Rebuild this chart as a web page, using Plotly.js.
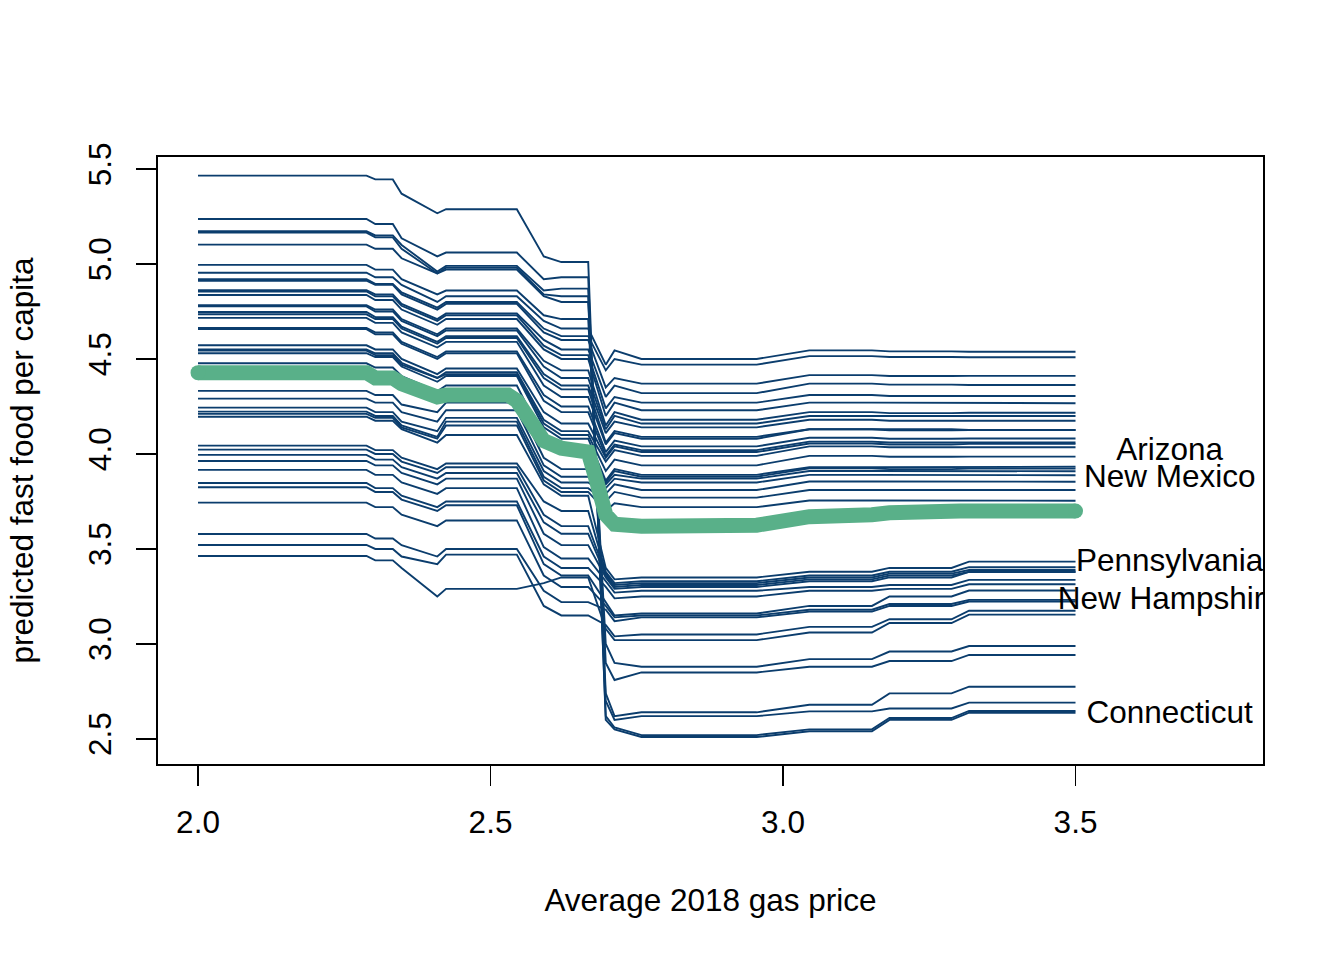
<!DOCTYPE html>
<html><head><meta charset="utf-8">
<script src="https://cdn.plot.ly/plotly-3.0.1.min.js"></script>
<style>html,body{margin:0;padding:0;background:#fff}#chart{width:1344px;height:960px}</style>
</head><body><div id="chart"></div>
<script>
// Gas prices (x) at which each ICE curve is read
const gasPrice = [2.000, 2.288, 2.303, 2.333, 2.348, 2.409, 2.424, 2.545, 2.591, 2.621, 2.667, 2.697, 2.712, 2.758, 2.955, 3.045, 3.152, 3.182, 3.288, 3.318, 3.500];

// Predicted fast food per capita for each state's curve, read at a given gas price
const p2000 = [5.465, 5.237, 5.172, 5.165, 5.102, 4.995,
  4.954, 4.920, 4.912, 4.862, 4.855, 4.837, 4.783, 4.777, 4.747, 4.735, 4.716, 4.663, 4.657, 4.572, 4.550, 4.544, 4.530, 4.477, 4.332, 4.291, 4.244, 4.223, 4.211,
  4.196, 4.044, 4.023, 3.995, 3.963, 3.916, 3.847, 3.825, 3.744, 3.579, 3.521, 3.463];
const p2303 = [5.445, 5.21, 5.15, 5.14, 5.08, 4.97,
  4.93, 4.895, 4.89, 4.84, 4.83, 4.81, 4.76, 4.75, 4.72, 4.71, 4.69, 4.64, 4.63, 4.55, 4.53, 4.52, 4.51, 4.455, 4.31, 4.27, 4.22, 4.20, 4.19,
  4.175, 4.02, 4.00, 3.97, 3.94, 3.89, 3.82, 3.80, 3.72, 3.555, 3.50, 3.44];
const p2348 = [5.37, 5.135, 5.10, 5.08, 5.03, 4.92,
  4.89, 4.85, 4.84, 4.79, 4.78, 4.76, 4.71, 4.70, 4.67, 4.66, 4.64, 4.59, 4.58, 4.50, 4.48, 4.47, 4.46, 4.41, 4.26, 4.22, 4.17, 4.15, 4.14,
  4.13, 3.98, 3.96, 3.93, 3.90, 3.85, 3.78, 3.76, 3.68, 3.52, 3.46, 3.40];
const p2409 = [5.267, 5.04, 4.96, 4.95, 4.95, 4.84,
  4.80, 4.77, 4.76, 4.71, 4.70, 4.68, 4.63, 4.62, 4.59, 4.58, 4.56, 4.51, 4.50, 4.42, 4.40, 4.40, 4.38, 4.33, 4.22, 4.17, 4.12, 4.09, 4.08,
  4.06, 3.92, 3.90, 3.87, 3.84, 3.79, 3.72, 3.70, 3.62, 3.46, 3.42, 3.25];
const p2424 = [5.288, 5.06, 4.99, 4.98, 4.97, 4.86,
  4.83, 4.80, 4.79, 4.74, 4.73, 4.71, 4.66, 4.65, 4.62, 4.61, 4.59, 4.54, 4.53, 4.45, 4.43, 4.42, 4.41, 4.36, 4.27, 4.23, 4.19, 4.17, 4.15,
  4.10, 3.95, 3.93, 3.90, 3.87, 3.82, 3.75, 3.73, 3.65, 3.50, 3.47, 3.29];
const p2591 = [5.04, 4.92, 4.86, 4.84, 4.83, 4.73,
  4.70, 4.66, 4.64, 4.60, 4.57, 4.55, 4.49, 4.46, 4.42, 4.40, 4.36, 4.31, 4.28, 4.22, 4.18, 4.16, 4.14, 4.08, 3.98, 3.94, 3.91, 3.88, 3.86,
  3.84, 3.75, 3.68, 3.64, 3.58, 3.51, 3.46, 3.42, 3.36, 3.28, 3.20, 3.32];
const p2621 = [5.01, 4.93, 4.87, 4.83, 4.80, 4.71,
  4.66, 4.62, 4.60, 4.55, 4.52, 4.50, 4.44, 4.40, 4.36, 4.34, 4.30, 4.25, 4.22, 4.16, 4.12, 4.10, 4.08, 4.02, 3.92, 3.88, 3.85, 3.82, 3.80,
  3.78, 3.70, 3.62, 3.58, 3.52, 3.45, 3.40, 3.36, 3.30, 3.22, 3.15, 3.35];
const p2697 = [2.60, 2.62, 2.70, 2.74, 2.90, 3.00,
  4.47, 4.44, 4.35, 4.30, 4.24, 4.20, 4.15, 4.13, 4.11, 4.06, 4.05, 4.01, 3.99, 3.98, 3.96, 3.91, 3.86, 3.85, 3.84, 3.82, 3.79, 3.75, 3.70,
  3.40, 3.38, 3.37, 3.36, 3.35, 3.33, 3.30, 3.22, 3.20, 3.18, 3.10, 3.08];
const p2712 = [2.55, 2.56, 2.60, 2.62, 2.81, 2.90,
  4.545, 4.50, 4.40, 4.36, 4.30, 4.27, 4.22, 4.20, 4.17, 4.12, 4.11, 4.07, 4.05, 4.04, 4.02, 3.97, 3.92, 3.91, 3.89, 3.87, 3.84, 3.80, 3.74,
  3.34, 3.32, 3.31, 3.30, 3.29, 3.27, 3.24, 3.15, 3.14, 3.12, 3.04, 3.02];
const p2758 = [2.51, 2.52, 2.62, 2.64, 2.85, 2.88,
  4.50, 4.47, 4.37, 4.32, 4.27, 4.23, 4.18, 4.16, 4.14, 4.09, 4.08, 4.04, 4.02, 4.01, 3.99, 3.94, 3.89, 3.88, 3.87, 3.85, 3.81, 3.77, 3.72,
  3.35, 3.33, 3.32, 3.31, 3.30, 3.28, 3.25, 3.16, 3.15, 3.14, 3.05, 3.02];
const p3045 = [2.54, 2.55, 2.645, 2.68, 2.88, 2.92,
  4.545, 4.515, 4.415, 4.37, 4.31, 4.27, 4.22, 4.20, 4.18, 4.13, 4.13, 4.085, 4.065, 4.055, 4.04, 3.99, 3.93, 3.925, 3.91, 3.89, 3.855, 3.81, 3.755,
  3.38, 3.36, 3.35, 3.34, 3.33, 3.30, 3.28, 3.20, 3.18, 3.17, 3.09, 3.06];
const p3182 = [2.60, 2.61, 2.66, 2.74, 2.91, 2.96,
  4.54, 4.51, 4.41, 4.365, 4.305, 4.27, 4.215, 4.20, 4.175, 4.125, 4.13, 4.08, 4.06, 4.05, 4.035, 3.985, 3.93, 3.92, 3.91, 3.89, 3.855, 3.81, 3.755,
  3.40, 3.38, 3.37, 3.36, 3.35, 3.31, 3.29, 3.25, 3.21, 3.20, 3.13, 3.11];
const p3318 = [2.638, 2.647, 2.691, 2.775, 2.942, 2.989,
  4.538, 4.509, 4.411, 4.363, 4.305, 4.267, 4.217, 4.200, 4.175, 4.126, 4.126, 4.081, 4.060, 4.053, 4.035, 3.986, 3.933, 3.923, 3.909, 3.888, 3.854, 3.810, 3.754,
  3.433, 3.404, 3.389, 3.379, 3.380, 3.337, 3.314, 3.281, 3.232, 3.223, 3.175, 3.154];

// which reading belongs to each gas price in gasPrice
const readingAtPrice = [p2000, p2000, p2303, p2303, p2348, p2409, p2424, p2424, p2591, p2621, p2621, p2697, p2712, p2758, p2758, p3045, p3045, p3182, p3182, p3318, p3318];

// average (partial dependence) curve
const meanPrice = [2.000, 2.288, 2.303, 2.333, 2.348, 2.394, 2.409, 2.424, 2.530, 2.545, 2.561, 2.576, 2.591, 2.621, 2.667, 2.682, 2.697, 2.712, 2.758, 2.955, 3.000, 3.045, 3.152, 3.182, 3.303, 3.500];
const meanPredicted = [4.428, 4.428, 4.40, 4.40, 4.37, 4.33, 4.30, 4.31, 4.31, 4.28, 4.20, 4.13, 4.07, 4.03, 4.01, 3.85, 3.68, 3.63, 3.62, 3.625, 3.64, 3.67, 3.68, 3.69, 3.70, 3.70];

// labelled states
const labelStates = ['Arizona', 'New Mexico', 'Pennsylvania', 'New Hampshire', 'Connecticut'];
const labelPredicted = [4.012, 3.870, 3.423, 3.223, 2.625];
const labelPrice = 3.661;

const xTicks = [2.0, 2.5, 3.0, 3.5];
const yTicks = [2.5, 3.0, 3.5, 4.0, 4.5, 5.0, 5.5];

const FONT = 'Liberation Sans, Arial, Helvetica, sans-serif';
const FS = 31.5;
const BLUE = '#0b3d6d';
const GREEN = '#59b089';

const traces = [];
for (let i = 0; i < p2000.length; i++) {
  traces.push({
    x: gasPrice, y: readingAtPrice.map(col => col[i]),
    type: 'scatter', mode: 'lines',
    line: {color: BLUE, width: 1.9},
    hoverinfo: 'skip', showlegend: false
  });
}
traces.push({
  x: meanPrice, y: meanPredicted, type: 'scatter', mode: 'lines',
  line: {color: GREEN, width: 15}, hoverinfo: 'skip', showlegend: false
});
traces.push({
  x: [meanPrice[0], meanPrice[meanPrice.length - 1]],
  y: [meanPredicted[0], meanPredicted[meanPredicted.length - 1]],
  type: 'scatter', mode: 'markers',
  marker: {color: GREEN, size: 15, line: {width: 0}}, hoverinfo: 'skip', showlegend: false
});
traces.push({
  x: labelStates.map(() => labelPrice), y: labelPredicted, text: labelStates,
  type: 'scatter', mode: 'text', textposition: 'middle center', cliponaxis: true,
  textfont: {family: FONT, size: FS, color: '#000'}, hoverinfo: 'skip', showlegend: false
});

const layout = {
  width: 1344, height: 960,
  margin: {l: 158, r: 81, t: 157, b: 196},
  paper_bgcolor: '#fff', plot_bgcolor: '#fff',
  font: {family: FONT, size: FS, color: '#000'},
  xaxis: {
    range: [1.9316, 3.8205], tickvals: xTicks, ticktext: xTicks.map(v => v.toFixed(1)),
    ticks: 'outside', ticklen: 20, tickwidth: 1.6, tickcolor: '#000',
    showline: true, mirror: true, linecolor: '#000', linewidth: 1.6,
    showgrid: false, zeroline: false, ticklabelstandoff: 10,
    tickfont: {family: FONT, size: FS, color: '#000'},
    title: {text: 'Average 2018 gas price', font: {family: FONT, size: FS, color: '#000'}, standoff: 49}
  },
  yaxis: {
    range: [2.368, 5.563], tickvals: yTicks, ticktext: yTicks.map(v => v.toFixed(1)),
    tickangle: -90,
    ticks: 'outside', ticklen: 20, tickwidth: 1.6, tickcolor: '#000',
    showline: true, mirror: true, linecolor: '#000', linewidth: 1.6,
    showgrid: false, zeroline: false, ticklabelstandoff: 13,
    tickfont: {family: FONT, size: FS, color: '#000'},
    title: {text: 'predicted fast food per capita', font: {family: FONT, size: FS, color: '#000'}, standoff: 39}
  }
};

Plotly.newPlot('chart', traces, layout, {displayModeBar: false, staticPlot: true});
</script>
</body></html>
